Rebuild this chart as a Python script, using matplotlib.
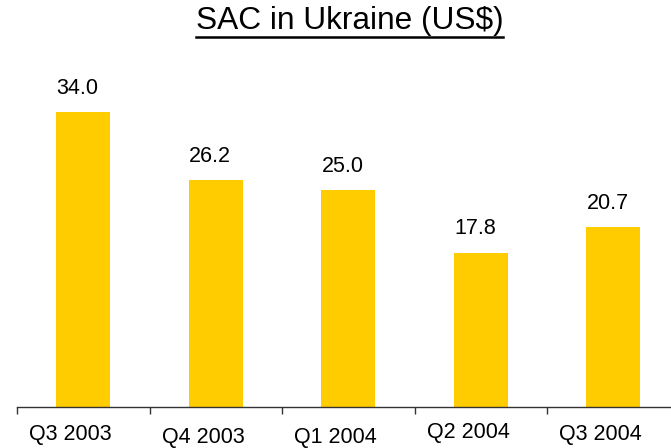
import matplotlib
matplotlib.use('Agg')
import numpy as np
from matplotlib import pyplot as plt
from matplotlib.lines import Line2D

plt.rcParams['font.family'] = ['Liberation Sans', 'DejaVu Sans']

# data
quarters = ['Q3 2003', 'Q4 2003', 'Q1 2004', 'Q2 2004', 'Q3 2004']
sac_usd = [34.0, 26.2, 25.0, 17.8, 20.7]

# staggered label drops below the axis (points)
label_drop = [20, 21.8, 21.8, 18.5, 20]

fig = plt.figure(figsize=(6.71, 4.48), dpi=100)
ax = fig.add_axes([17 / 671, 1 - 407 / 448, 662.5 / 671, 347 / 448])

x = np.arange(len(quarters))
ax.bar(x, sac_usd, width=0.41, color='#FFCC00')

# value labels above the bars
for xi, v in zip(x, sac_usd):
    ax.annotate('%.1f' % v, (xi, v), xytext=(-4, 17), textcoords='offset points',
                ha='center', va='center', fontsize=15.5)

# category labels, slightly staggered like the original
for xi, q, d in zip(x, quarters, label_drop):
    ax.annotate(q, (xi, 0), xycoords=('data', 'axes fraction'),
                xytext=(-9, -d), textcoords='offset points',
                ha='center', va='center', fontsize=15.5)

ax.set_xlim(-0.5, len(quarters) - 0.5)
ax.set_ylim(0, 40)
ax.set_xticks([])
ax.set_xticks(np.arange(-0.5, len(quarters)), minor=True)
ax.tick_params(axis='x', which='minor', length=5, width=1, color='#333333', direction='out')
ax.set_yticks([])
for s in ['top', 'right', 'left']:
    ax.spines[s].set_visible(False)
ax.spines['bottom'].set_color('#333333')
ax.spines['bottom'].set_linewidth(1)

# title with underline
title = fig.text(349.5 / 671, 1 - 21 / 448, 'SAC in Ukraine (US$)', ha='center', va='center', fontsize=22.8)
fig.canvas.draw()
bb = title.get_window_extent()
uy = 1 - 37 / 448
fig.add_artist(Line2D([bb.x0 / fig.bbox.width, bb.x1 / fig.bbox.width], [uy, uy],
                      transform=fig.transFigure, color='black', linewidth=1.8))

fig.savefig('out.png', dpi=100)
